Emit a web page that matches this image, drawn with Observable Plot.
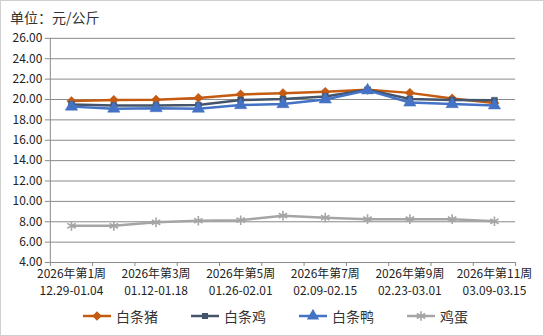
<!DOCTYPE html>
<html>
<head>
<meta charset="utf-8">
<script src="https://cdn.jsdelivr.net/npm/d3@7"></script>
<script src="https://cdn.jsdelivr.net/npm/@observablehq/plot@0.6"></script>
<style>
  html, body { margin: 0; padding: 0; background: #fff; }
  #wrap { position: relative; width: 544px; height: 336px; box-sizing: border-box; border: 1px solid #d0d0d0; background: #fff; font-family: "Noto Sans CJK SC", sans-serif; overflow: hidden; }
  #title { position: absolute; left: 9px; top: 6px; font-size: 14px; color: #333; line-height: 20px; }
  #chart { position: absolute; left: -1px; top: -1px; }
  #legend { position: absolute; left: 0; top: 305px; width: 544px; display: flex; justify-content: center; gap: 32px; font-size: 14px; color: #333; padding-left: 4px; box-sizing: border-box; }
  .item { display: flex; align-items: center; gap: 4px; line-height: 20px; }
</style>
</head>
<body>
<div id="wrap">
  <div id="title">单位：元/公斤</div>
  <div id="chart"></div>
  <div id="legend"></div>
</div>
<script>
const weeks = ["2026年第1周","2026年第2周","2026年第3周","2026年第4周","2026年第5周","2026年第6周","2026年第7周","2026年第8周","2026年第9周","2026年第10周","2026年第11周"];
const dates = ["12.29-01.04","01.05-01.11","01.12-01.18","01.19-01.25","01.26-02.01","02.02-02.08","02.09-02.15","02.16-02.22","02.23-03.01","03.02-03.08","03.09-03.15"];
const seriesNames = ["白条猪","白条鸡","白条鸭","鸡蛋"];
const pork    = [19.85, 19.95, 19.98, 20.15, 20.50, 20.62, 20.75, 20.95, 20.65, 20.10, 19.65];
const chicken = [19.50, 19.40, 19.42, 19.45, 19.95, 20.05, 20.30, 20.95, 20.05, 19.95, 19.92];
const duck    = [19.30, 19.10, 19.15, 19.10, 19.45, 19.55, 20.00, 20.90, 19.70, 19.55, 19.42];
const egg     = [7.60, 7.60, 7.95, 8.10, 8.15, 8.60, 8.40, 8.25, 8.25, 8.25, 8.05];
const yTicks = [4, 6, 8, 10, 12, 14, 16, 18, 20, 22, 24, 26];

const colors = ["#C55A11", "#44546A", "#4472C4", "#A5A5A5"];
const symbols = ["diamond2", "square", "triangle", "asterisk"];
const sizes = [4.2, 3.4, 4.6, 4.6];
const allValues = [pork, chicken, duck, egg];

const rows = [];
allValues.forEach((vals, s) => vals.forEach((v, i) => rows.push({series: seriesNames[s], s, i: i + 1, v})));
const boundaries = d3.range(weeks.length + 1).map(k => k + 0.5);
const labelRows = weeks.map((w, i) => ({i: i + 1, text: w + "\n" + dates[i]})).filter((d, i) => i % 2 === 0);

const marks = [
  Plot.gridY(yTicks, {stroke: "#8a8a8a", strokeOpacity: 1, strokeWidth: 1}),
  Plot.ruleX([0.5], {stroke: "#8a8a8a", strokeWidth: 1}),
  Plot.axisY({ticks: yTicks, tickFormat: d3.format(".2f"), tickSize: 5, tickPadding: 3, fontSize: 12, label: null, stroke: "#8a8a8a", color: "#222"}),
  Plot.axisX({ticks: boundaries, tickFormat: () => "", tickSize: 4, label: null, stroke: "#8a8a8a"}),
  Plot.text(labelRows, {x: "i", frameAnchor: "bottom", text: "text", lineAnchor: "top", dy: 3, lineHeight: 1.42, fontSize: 12, fill: "#222"})
];
allValues.forEach((vals, s) => {
  const data = rows.filter(r => r.s === s);
  marks.push(Plot.line(data, {x: "i", y: "v", stroke: colors[s], strokeWidth: 2.5}));
  if (symbols[s] === "asterisk") {
    marks.push(Plot.dot(data, {x: "i", y: "v", symbol: "asterisk", r: sizes[s], stroke: colors[s], strokeWidth: 1.6, fill: "none"}));
  } else {
    marks.push(Plot.dot(data, {x: "i", y: "v", symbol: symbols[s], r: sizes[s], fill: colors[s], stroke: colors[s], strokeWidth: 0.5}));
  }
});

const chart = Plot.plot({
  width: 545,
  height: 300,
  marginTop: 38,
  marginBottom: 37,
  marginLeft: 50,
  marginRight: 28,
  style: {fontFamily: "'Noto Sans CJK SC', sans-serif", background: "transparent"},
  x: {type: "linear", domain: [0.5, weeks.length + 0.5], axis: null},
  y: {domain: [4, 26], axis: null},
  marks
});
document.getElementById("chart").appendChild(chart);

// legend
const legend = d3.select("#legend");
seriesNames.forEach((name, s) => {
  const item = legend.append("div").attr("class", "item");
  const svg = item.append("svg").attr("width", 30).attr("height", 14);
  svg.append("line").attr("x1", 1).attr("x2", 29).attr("y1", 7).attr("y2", 7).attr("stroke", colors[s]).attr("stroke-width", 2.5);
  const symMap = {diamond2: d3.symbolDiamond2, square: d3.symbolSquare, triangle: d3.symbolTriangle, asterisk: d3.symbolAsterisk};
  const r = sizes[s];
  const path = svg.append("path").attr("transform", "translate(15,7)").attr("d", d3.symbol(symMap[symbols[s]], r * r * Math.PI)());
  if (symbols[s] === "asterisk") path.attr("fill", "none").attr("stroke", colors[s]).attr("stroke-width", 1.6);
  else path.attr("fill", colors[s]);
  item.append("span").text(name);
});
</script>
</body>
</html>
